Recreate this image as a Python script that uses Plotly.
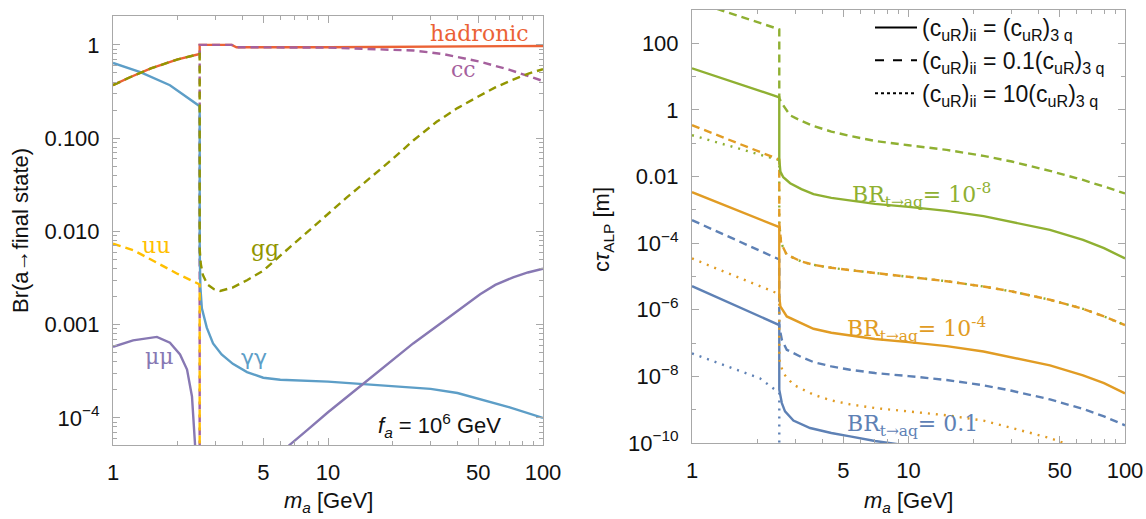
import math
import plotly.graph_objects as go

# ---------------- Left panel data: branching ratios ----------------
had_x = [1, 1.2, 1.5, 2, 2.53, 2.53, 3.57, 3.75, 10, 30, 100]
had_y = [0.37, 0.45, 0.56, 0.70, 0.80, 1.0, 1.0, 0.945, 0.945, 0.955, 0.975]

cc_x = [2.53, 2.53, 3.57, 3.75, 10, 17, 25, 30, 35, 51, 70, 100]
cc_y = [1e-6, 1.0, 1.0, 0.945, 0.935, 0.905, 0.87, 0.83, 0.79, 0.66, 0.54, 0.41]

gg_x = [1, 1.2, 1.5, 2, 2.53, 2.53, 2.56, 2.62, 2.75, 2.95, 3.15, 3.6, 4.2, 5, 6, 8, 12.2,
        20, 25, 32, 40, 50, 60, 70, 85, 100]
gg_y = [0.37, 0.45, 0.56, 0.70, 0.80, 0.0065, 0.0045, 0.0034, 0.0027, 0.0024, 0.0023, 0.0025, 0.003,
        0.0038, 0.0055, 0.0098, 0.023, 0.06, 0.095, 0.15, 0.21, 0.28, 0.35, 0.41, 0.49, 0.55]

uu_x = [1, 1.24, 1.5, 2, 2.53, 2.53]
uu_y = [0.0074, 0.0063, 0.005, 0.0035, 0.0027, 1e-6]

gam_x = [1, 1.34, 1.84, 2.53, 2.531, 2.55, 2.59, 2.73, 2.92, 3.2, 3.61, 4.2, 5, 6, 10, 14.5, 20,
         30, 40, 51, 70, 100]
gam_y = [0.64, 0.51, 0.37, 0.22, 0.006, 0.0025, 0.0015, 0.00093, 0.00063, 0.00048, 0.00038, 0.00031,
         0.00027, 0.000257, 0.000245, 0.00023, 0.00022, 0.000205, 0.000185, 0.00016, 0.00013, 0.0001]

mu_lo_x = [1, 1.24, 1.6, 1.84, 2.05, 2.21, 2.33, 2.41, 2.45]
mu_lo_y = [5.8e-4, 6.8e-4, 7.4e-4, 6.4e-4, 4.8e-4, 3.3e-4, 1.7e-4, 5e-5, 1e-5]

mu_hi_x = [6.0, 6.6, 8, 10, 14.5, 24.9, 36, 45, 51, 60, 72.6, 85, 100]
mu_hi_y = [3.8e-5, 5.1e-5, 7.4e-5, 1.15e-4, 2.3e-4, 6.3e-4, 1.17e-3, 1.72e-3, 2.12e-3, 2.67e-3,
           3.22e-3, 3.63e-3, 3.98e-3]

# ---------------- Right panel data: c*tau_ALP [m] ----------------
gs_x = [1, 2.53, 2.53, 2.56, 2.64, 2.84, 3.2, 3.64, 4.4, 5.37, 7, 10, 15, 22.2, 30, 45, 64, 80, 100]
gs_y = [17.8, 2.4, 0.032, 0.0141, 0.0095, 0.0063, 0.0042, 0.00295, 0.00229, 0.00191, 0.00151,
        0.00123, 0.00093, 0.000646, 0.000437, 0.000251, 0.000126, 7.1e-5, 3.47e-5]

gd_x = [1, 2.53, 2.53, 2.6, 2.84, 3.2, 3.63, 4.4, 5.37, 7, 10, 15, 22.2, 30, 45, 64, 80, 100]
gd_y = [1905, 263, 2.24, 1.58, 0.69, 0.468, 0.331, 0.224, 0.166, 0.117, 0.087, 0.063, 0.0417,
        0.0282, 0.0148, 0.0079, 0.005, 0.0031]

gdot_x = [1, 2.53, 2.53, 2.58, 2.74, 3.2, 3.64, 4.4, 5.37, 7, 10, 15, 22.2, 30, 45, 64, 80, 100]
gdot_y = [0.174, 0.031, 3.98e-4, 1.0e-4, 4.47e-5, 2.82e-5, 2.24e-5, 1.82e-5, 1.55e-5, 1.26e-5,
          9.8e-6, 7.2e-6, 5.0e-6, 3.55e-6, 2.0e-6, 1.07e-6, 6.3e-7, 3.47e-7]

os_x = [1, 2.53, 2.53, 2.56, 2.74, 3.2, 3.64, 4.4, 5.37, 7, 10, 15, 22.2, 30, 45, 64, 80, 100]
os_y = [3.39e-3, 3.02e-4, 2.5e-6, 1.26e-6, 6.3e-7, 3.98e-7, 2.69e-7, 2.04e-7, 1.66e-7, 1.32e-7,
        1.07e-7, 8.1e-8, 5.6e-8, 3.8e-8, 2.14e-8, 1.07e-8, 6.3e-9, 3.1e-9]

od_x = [1, 2.53, 2.53, 2.58, 2.74, 3.2, 3.64, 4.4, 5.37, 7, 10, 15, 22.2, 30, 45, 64, 80, 100]
od_y = [0.347, 0.0324, 3.98e-4, 1.0e-4, 4.47e-5, 2.82e-5, 2.24e-5, 1.82e-5, 1.55e-5, 1.26e-5,
        9.8e-6, 7.2e-6, 5.0e-6, 3.55e-6, 2.0e-6, 1.07e-6, 6.3e-7, 3.47e-7]

odot_x = [1, 2.38, 2.53, 2.53, 2.64, 2.94, 3.64, 4.4, 5.37, 7, 10, 15, 22.2, 30, 45, 64]
odot_y = [3.47e-5, 3.47e-6, 2.95e-6, 3.2e-8, 1.23e-8, 5.6e-9, 2.82e-9, 1.9e-9, 1.45e-9, 1.12e-9,
          8.9e-10, 6.8e-10, 4.7e-10, 2.8e-10, 1.41e-10, 6.3e-11]

bs_x = [1, 2.53, 2.53, 2.6, 2.69, 2.94, 3.51, 4.4, 5.37, 7, 10]
bs_y = [5.1e-6, 3.47e-7, 4.0e-9, 1.58e-9, 8.9e-10, 4.7e-10, 2.82e-10, 2.0e-10, 1.58e-10, 1.15e-10,
        8.3e-11]

bd_x = [1, 2.53, 2.53, 2.6, 2.74, 3.2, 3.64, 4.4, 5.37, 7, 10, 15, 22.2, 30, 45, 64, 80, 100]
bd_y = [4.9e-4, 3.24e-5, 3.2e-7, 1.26e-7, 6.3e-8, 3.8e-8, 2.69e-8, 2.0e-8, 1.58e-8, 1.26e-8,
        1.02e-8, 7.8e-9, 5.4e-9, 3.7e-9, 2.04e-9, 1.05e-9, 6.3e-10, 3.4e-10]

bdot_x = [1, 2.06, 2.37, 2.53, 2.53]
bdot_y = [4.9e-8, 8.7e-9, 4.4e-9, 3.16e-9, 1e-11]

# ---------------- ticks ----------------
x_major = [1, 5, 10, 50, 100]
x_minor = [2, 3, 4, 6, 7, 8, 9, 20, 30, 40, 60, 70, 80, 90]
yl_major = [1e-4, 1e-3, 1e-2, 1e-1, 1]
yl_text = ["10<sup>\u22124</sup>", "0.001", "0.010", "0.100", "1"]
yl_minor = [m * 10.0 ** e for e in range(-5, 1) for m in range(2, 10)]
yr_major = [1e-10, 1e-8, 1e-6, 1e-4, 1e-2, 1, 100]
yr_text = ["10<sup>\u221210</sup>", "10<sup>\u22128</sup>", "10<sup>\u22126</sup>",
           "10<sup>\u22124</sup>", "0.01", "1", "100"]
yr_minor = [1e-9, 1e-7, 1e-5, 1e-3, 0.1, 10, 1000]

C_RED = "#EB6235"
C_MAG = "#A5609D"
C_OLI = "#929600"
C_YEL = "#FFBF00"
C_LBL = "#5D9EC7"
C_PUR = "#8778B3"
C_GRN = "#8FB032"
C_ORA = "#E19C24"
C_BLU = "#5E81B5"
DASH = "8px,5px"
DOT = "2px,6px"
W = 2.4

fig = go.Figure()


def add(x, y, color, dash, xa="x", ya="y"):
    fig.add_trace(go.Scatter(x=x, y=y, mode="lines", xaxis=xa, yaxis=ya, showlegend=False,
                             line=dict(color=color, width=W, dash=dash), hoverinfo="skip"))


# left panel
add(had_x, had_y, C_RED, "solid")
add(cc_x, cc_y, C_MAG, DASH)
add(gam_x, gam_y, C_LBL, "solid")
add(mu_lo_x, mu_lo_y, C_PUR, "solid")
add(mu_hi_x, mu_hi_y, C_PUR, "solid")
add(gg_x, gg_y, C_OLI, DASH)
add(uu_x, uu_y, C_YEL, DASH)

# right panel
for (x, y, c, d) in [
    (bdot_x, bdot_y, C_BLU, DOT), (bd_x, bd_y, C_BLU, DASH), (bs_x, bs_y, C_BLU, "solid"),
    (odot_x, odot_y, C_ORA, DOT), (gdot_x, gdot_y, C_GRN, DOT), (od_x, od_y, C_ORA, DASH),
    (os_x, os_y, C_ORA, "solid"), (gd_x, gd_y, C_GRN, DASH), (gs_x, gs_y, C_GRN, "solid"),
]:
    add(x, y, c, d, "x2", "y2")

# legend entries
leg_names = [
    "(c<sub>uR</sub>)<sub>ii</sub> = (c<sub>uR</sub>)<sub>3 q</sub>",
    "(c<sub>uR</sub>)<sub>ii</sub> = 0.1(c<sub>uR</sub>)<sub>3 q</sub>",
    "(c<sub>uR</sub>)<sub>ii</sub> = 10(c<sub>uR</sub>)<sub>3 q</sub>",
]
for name, d in zip(leg_names, ["solid", "dash", "dot"]):
    fig.add_trace(go.Scatter(x=[None], y=[None], mode="lines", xaxis="x2", yaxis="y2",
                             name=name, line=dict(color="black", width=2, dash=d)))

FRAME = "#A8A8A8"
TICKFONT = dict(family="Liberation Sans, Arial, sans-serif", size=22, color="#111")


def xaxis(domain, anchor):
    return dict(type="log", range=[0, 2], domain=domain, anchor=anchor,
                showline=True, linecolor=FRAME, linewidth=1, mirror="allticks",
                ticks="inside", ticklen=7, tickcolor=FRAME, tickwidth=1,
                tickmode="array", tickvals=x_major, ticktext=[str(v) for v in x_major],
                minor=dict(tickmode="array", tickvals=x_minor, ticks="inside", ticklen=4,
                           tickcolor=FRAME, showgrid=False),
                showgrid=False, zeroline=False, tickfont=TICKFONT, ticklabelstandoff=8)


def yaxis(domain, anchor, rng, vals, text, minor):
    return dict(type="log", range=rng, domain=domain, anchor=anchor,
                showline=True, linecolor=FRAME, linewidth=1, mirror="allticks",
                ticks="inside", ticklen=7, tickcolor=FRAME, tickwidth=1,
                tickmode="array", tickvals=vals, ticktext=text,
                minor=dict(tickmode="array", tickvals=minor, ticks="inside", ticklen=4,
                           tickcolor=FRAME, showgrid=False),
                showgrid=False, zeroline=False, tickfont=TICKFONT, ticklabelstandoff=8)


H = 519.0
Wd = 1146.0
fig.update_layout(
    width=1146, height=519, margin=dict(l=0, r=0, t=0, b=0, autoexpand=False),
    paper_bgcolor="white", plot_bgcolor="white",
    xaxis=xaxis([113 / Wd, 543 / Wd], "y"),
    yaxis=yaxis([1 - 445 / H, 1 - 16 / H], "x", [-4.29, 0.31], yl_major, yl_text, yl_minor),
    xaxis2=xaxis([692 / Wd, 1125 / Wd], "y2"),
    yaxis2=yaxis([1 - 443 / H, 1 - 10 / H], "x2", [-10, 3], yr_major, yr_text, yr_minor),
    legend=dict(x=870 / Wd, y=1 - 6 / H, xanchor="left", yanchor="top",
                bgcolor="rgba(0,0,0,0)", itemwidth=42,
                font=dict(family="Liberation Sans, Arial, sans-serif", size=23, color="#111")),
    showlegend=True,
)

SERIF = "DejaVu Serif, serif"
SANS = "Liberation Sans, Arial, sans-serif"
L = math.log10


def lab(text, x, y, color, xr="x", yr="y", family=SERIF, size=22, xanchor="center"):
    fig.add_annotation(text=text, x=L(x), y=L(y), xref=xr, yref=yr, showarrow=False,
                       font=dict(family=family, size=size, color=color), xanchor=xanchor,
                       yanchor="middle")


lab("hadronic", 50.9, 1.33, C_RED)
lab("cc", 42.5, 0.54, C_MAG)
lab("gg", 5.09, 0.0066, C_OLI)
lab("uu", 1.58, 0.0071, C_YEL)
lab("\u03bc\u03bc", 1.64, 4.6e-4, C_PUR)
lab("\u03b3\u03b3", 4.55, 4.5e-4, C_LBL, family="DejaVu Sans, sans-serif")
lab("<i>f</i><sub><i>a</i></sub> = 10<sup>6</sup> GeV", 33, 8.3e-5, "#111", family=SANS)

lab("BR<sub>t\u2192aq</sub>= 10<sup>-8</sup>", 5.37, 2.75e-3, C_GRN, "x2", "y2", xanchor="left")
lab("BR<sub>t\u2192aq</sub>= 10<sup>-4</sup>", 5.09, 2.6e-7, C_ORA, "x2", "y2", xanchor="left")
lab("BR<sub>t\u2192aq</sub>= 0.1", 5.09, 3.3e-10, C_BLU, "x2", "y2", xanchor="left")


def title(text, px, py, angle=0):
    fig.add_annotation(text=text, x=px / Wd, y=1 - py / H, xref="paper", yref="paper",
                       showarrow=False, textangle=angle, xanchor="center", yanchor="middle",
                       font=dict(family=SANS, size=22, color="#111"))


title("Br(a\u2192final state)", 20, 231, -90)
title("c<i>\u03c4</i><sub>ALP</sub> [m]", 603, 230, -90)
title("<i>m<sub>a</sub></i> [GeV]", 328, 502)
title("<i>m<sub>a</sub></i> [GeV]", 908, 502)

fig.write_html("out.html")
